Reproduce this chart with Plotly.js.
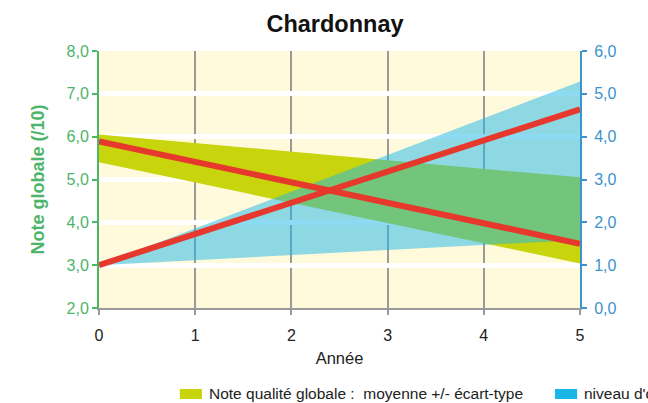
<!DOCTYPE html>
<html>
<head>
<meta charset="utf-8">
<script src="https://cdn.plot.ly/plotly-3.0.1.min.js"></script>
<style>html,body{margin:0;padding:0;background:#fff;overflow:hidden;}#chart{width:648px;height:403px;}</style>
</head>
<body>
<div id="chart"></div>
<script>
// Data
var years = [0, 5];
// Note qualité globale (left axis, /10)
var noteLow  = [5.40, 3.04];
var noteHigh = [6.05, 5.05];
var noteTrend = [5.89, 3.50];
// niveau d'oïdium (right axis)
var oidLow  = [1.00, 1.59];
var oidHigh = [1.00, 5.29];
var oidTrend = [1.00, 4.64];

var xTicks = [0, 1, 2, 3, 4, 5];
var noteName = "Note qualité globale :\u00a0 moyenne +/- écart-type";
var oidName = "niveau d'oïdium : moyenne +/- écart-type";

var YELLOW = 'rgb(200,212,12)';
var BLUE_SOLID = 'rgb(27,182,232)';
var BLUE = 'rgba(27,182,232,0.5)';
var RED = 'rgb(230,56,44)';
var GREEN = '#4db56a';
var AXBLUE = '#3d93cc';

var traces = [
  {x: years, y: noteLow, mode: 'lines', line: {width: 0}, showlegend: false, hoverinfo: 'skip', yaxis: 'y'},
  {x: years, y: noteHigh, mode: 'lines', line: {width: 0}, fill: 'tonexty', fillcolor: YELLOW,
   name: noteName, showlegend: false, yaxis: 'y'},
  {x: years, y: oidLow, mode: 'lines', line: {width: 0}, showlegend: false, hoverinfo: 'skip', yaxis: 'y2'},
  {x: years, y: oidHigh, mode: 'lines', line: {width: 0}, fill: 'tonexty', fillcolor: BLUE,
   name: oidName, showlegend: false, yaxis: 'y2'},
  {x: years, y: oidTrend, mode: 'lines', line: {color: RED, width: 6}, showlegend: false, yaxis: 'y2'},
  {x: years, y: noteTrend, mode: 'lines', line: {color: RED, width: 6}, showlegend: false, yaxis: 'y3'}
];

// legend entries (drawn as annotations + swatches so the second one runs off the edge like the reference)
var legendItems = [
  {name: noteName, color: YELLOW, sx: 0.168},
  {name: oidName, color: BLUE_SOLID, sx: 0.948}
];
var shapes = [], annotations = [];
legendItems.forEach(function (it) {
  shapes.push({type: 'rect', xref: 'paper', yref: 'paper', x0: it.sx, x1: it.sx + 0.046,
    y0: -0.354, y1: -0.315, fillcolor: it.color, line: {width: 0}});
  annotations.push({xref: 'paper', yref: 'paper', x: it.sx + 0.056, y: -0.333, xanchor: 'left', yanchor: 'middle',
    text: it.name, showarrow: false, font: {size: 15.5, color: '#222'}});
});

var layout = {
  width: 648, height: 403,
  margin: {l: 99, r: 68, t: 51, b: 95},
  paper_bgcolor: '#ffffff',
  plot_bgcolor: '#fffadc',
  separators: ', ',
  font: {family: 'Liberation Sans, Arial, sans-serif', color: '#222'},
  title: {text: '<b>Chardonnay</b>', font: {size: 23.5, color: '#111'}, x: 0.517, xanchor: 'center', y: 0.94, yanchor: 'middle', yref: 'container'},
  xaxis: {
    range: [0, 5], tickvals: xTicks, ticktext: xTicks.map(String),
    showgrid: true, gridcolor: '#9a9a9a', gridwidth: 2,
    showline: true, linecolor: '#9a9a9a', linewidth: 2,
    ticks: 'outside', ticklen: 5, tickwidth: 2, tickcolor: '#9a9a9a',
    tickfont: {size: 16, color: '#222'}, zeroline: false, ticklabelstandoff: 7,
    title: {text: 'Année', font: {size: 16.5, color: '#222'}, standoff: 9}
  },
  yaxis: {
    range: [2, 8], dtick: 1, tick0: 2, tickformat: '.1f',
    showgrid: true, gridcolor: '#ffffff', gridwidth: 5,
    showline: true, linecolor: GREEN, linewidth: 2,
    ticks: 'outside', ticklen: 5, tickwidth: 2, tickcolor: GREEN,
    tickfont: {size: 16, color: GREEN}, zeroline: false,
    title: {text: '<b>Note globale (/10)</b>', font: {size: 18, color: GREEN}, standoff: 17}
  },
  yaxis2: {
    overlaying: 'y', side: 'right', range: [0, 6], dtick: 1, tick0: 0, tickformat: '.1f',
    showgrid: false, showline: true, linecolor: AXBLUE, linewidth: 2,
    ticks: 'outside', ticklen: 5, tickwidth: 2, tickcolor: AXBLUE, ticklabelstandoff: 4,
    tickfont: {size: 16, color: AXBLUE}, zeroline: false
  },
  yaxis3: {
    overlaying: 'y', range: [2, 8], visible: false, showgrid: false, zeroline: false
  },
  shapes: shapes,
  annotations: annotations,
  showlegend: false
};

Plotly.newPlot('chart', traces, layout, {displayModeBar: false, staticPlot: true});
</script>
</body>
</html>
